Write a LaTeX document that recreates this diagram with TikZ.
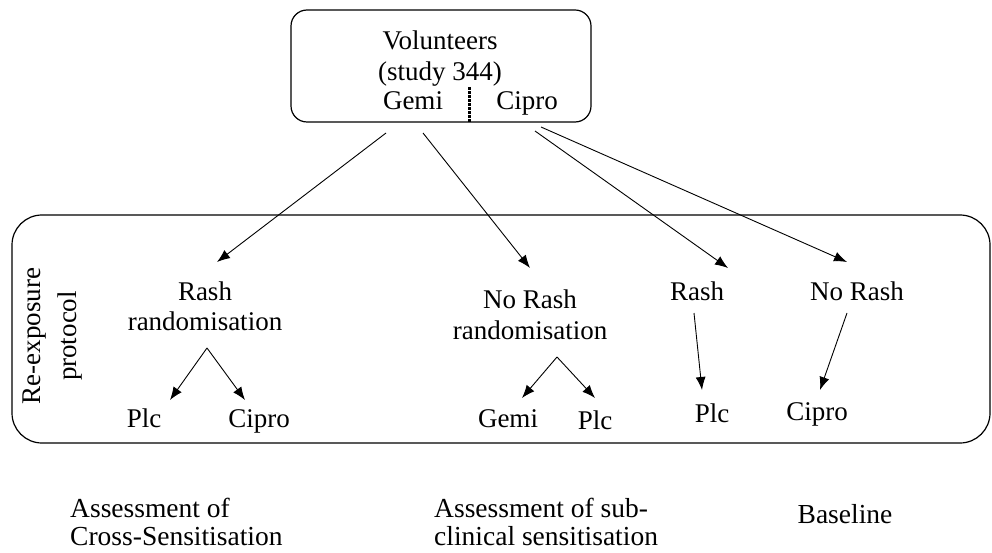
\documentclass[tikz,border=0pt]{standalone}
\usepackage{fontspec}
\setmainfont{Liberation Serif}
\usetikzlibrary{arrows.meta}
\begin{document}
\begin{tikzpicture}[x=1pt,y=-1pt,
  lbl/.style={font=\fontsize{27}{31}\selectfont, inner sep=0pt, anchor=base},
  blbl/.style={font=\fontsize{27.5}{28}\selectfont, inner sep=0pt, align=left, anchor=base west},
  arr/.style={-{Latex[length=13pt,width=10pt]}, line width=0.9pt},
  frame/.style={draw, line width=1.2pt}]
\useasboundingbox (0,0) rectangle (992,553);
% boxes
\node[frame, rounded corners=16pt, minimum width=300pt, minimum height=112pt] (top) at (441,66) {};
\node[frame, rounded corners=30pt, minimum width=978pt, minimum height=228pt] (proto) at (501,329) {};
% top texts
\node[lbl] (vol) at (440,50) {Volunteers};
\node[lbl] (study) at (440,81) {(study 344)};
\node[lbl] (tgemi) at (413,110) {Gemi};
\node[lbl] (tcipro) at (527,110) {Cipro};
\coordinate (divt) at (469,87);
\coordinate (divb) at (469,122);
\draw[line width=3pt, dash pattern=on 3pt off 1pt] (divt) -- (divb);
% side label
\node[font=\fontsize{27}{36}\selectfont, rotate=90, align=center, inner sep=0pt] (side) at (53,336) {Re-exposure\\protocol};
% second level
\node[lbl] (rash1) at (205,300) {Rash};
\node[lbl] (rand1) at (205,330) {randomisation};
\node[lbl] (norash1) at (530,308) {No Rash};
\node[lbl] (rand2) at (530,339) {randomisation};
\node[lbl] (rash2) at (697,300) {Rash};
\node[lbl] (norash2) at (857,300) {No Rash};
% leaves
\node[lbl] (plc1) at (144,427) {Plc};
\node[lbl] (cipro1) at (259,427) {Cipro};
\node[lbl] (gemi2) at (508,427) {Gemi};
\node[lbl] (plc2) at (595,429) {Plc};
\node[lbl] (plc3) at (712,422) {Plc};
\node[lbl] (cipro3) at (817,420) {Cipro};
% bottom texts
\node[blbl] (b1) at (70,545) {Assessment of\\Cross-Sensitisation};
\node[blbl] (b2) at (434,545) {Assessment of sub-\\clinical sensitisation};
\node[lbl, font=\fontsize{27.5}{28}\selectfont] (b3) at (845,523) {Baseline};
% connector coordinates
\coordinate (sA) at (386,133);
\coordinate (sB) at (423,133);
\coordinate (sC) at (535,131);
\coordinate (sD) at (541,127);
\coordinate (tA) at (217,262);
\coordinate (tB) at (530,268);
\coordinate (tC) at (728,268);
\coordinate (tD) at (847,262);
\coordinate (ap1) at (207,348);
\coordinate (ap2) at (557,357);
\coordinate (t11) at (170,400);
\coordinate (t12) at (245,400);
\coordinate (t21) at (522,398);
\coordinate (t22) at (595,398);
\coordinate (s3) at (694,313);
\coordinate (t3) at (702,390);
\coordinate (s4) at (847,313);
\coordinate (t4) at (820,390);
\draw[arr] (sA) -- (tA);
\draw[arr] (sB) -- (tB);
\draw[arr] (sC) -- (tC);
\draw[arr] (sD) -- (tD);
\draw[arr] (ap1) -- (t11);
\draw[arr] (ap1) -- (t12);
\draw[arr] (ap2) -- (t21);
\draw[arr] (ap2) -- (t22);
\draw[arr] (s3) -- (t3);
\draw[arr] (s4) -- (t4);
\end{tikzpicture}
\end{document}
